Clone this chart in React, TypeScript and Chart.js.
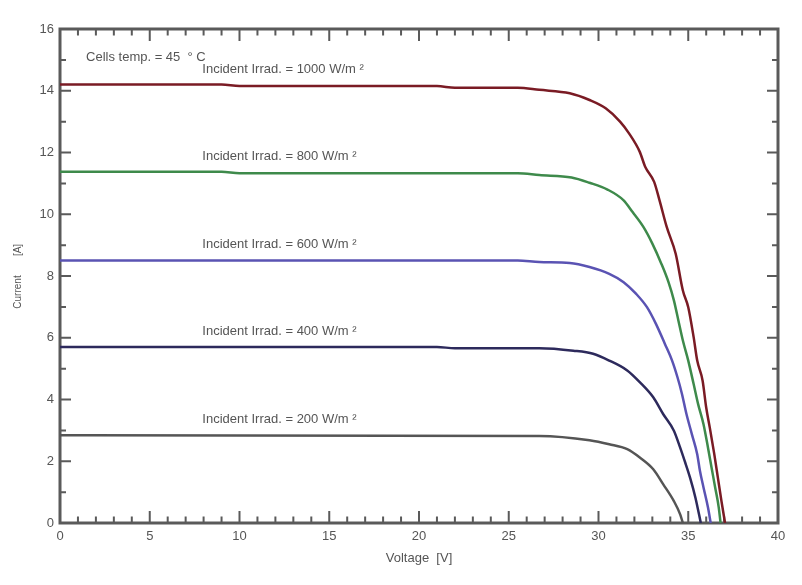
import React, { useEffect, useRef } from "react";
import { Chart, registerables } from "chart.js";

Chart.register(...registerables);

// ---- Data (Voltage [V], Current [A]) ----
const v1000 = [0, 9, 10, 21, 22, 25.5, 26.7, 28.4, 29.5, 30.4, 31.2, 31.7, 32.3, 32.6, 33.1, 33.4, 33.8, 34.3, 34.7, 35.0, 35.3, 35.5, 35.8, 36.0, 36.2, 36.45, 36.65, 36.85, 37.05];
const i1000 = [14.2, 14.2, 14.15, 14.15, 14.1, 14.1, 14.03, 13.92, 13.7, 13.43, 13.0, 12.62, 12.02, 11.54, 11.05, 10.45, 9.59, 8.72, 7.53, 6.99, 6.02, 5.26, 4.61, 3.74, 3.09, 2.23, 1.47, 0.71, 0];

const v800 = [0, 9, 10, 25.5, 26.7, 28.5, 29.5, 30.5, 31.4, 31.9, 32.5, 33.0, 33.5, 33.9, 34.2, 34.45, 34.7, 35.0, 35.3, 35.55, 35.85, 36.1, 36.3, 36.5, 36.7, 36.8];
const i800 = [11.38, 11.38, 11.33, 11.33, 11.27, 11.19, 11.02, 10.8, 10.45, 10.07, 9.59, 9.05, 8.4, 7.8, 7.21, 6.56, 5.91, 5.26, 4.5, 3.85, 3.2, 2.44, 1.79, 1.15, 0.5, 0];

const v600 = [0, 25.5, 26.7, 28.4, 29.5, 30.6, 31.4, 32.1, 32.7, 33.2, 33.7, 34.1, 34.4, 34.65, 34.9, 35.2, 35.5, 35.65, 35.85, 36.1, 36.25];
const i600 = [8.5, 8.5, 8.45, 8.42, 8.29, 8.07, 7.8, 7.42, 6.99, 6.45, 5.8, 5.26, 4.72, 4.18, 3.53, 2.88, 2.23, 1.69, 1.15, 0.5, 0];

const v400 = [0, 21, 22, 26.7, 28.6, 29.7, 30.6, 31.6, 32.3, 33.05, 33.6, 34.2, 34.55, 34.8, 35.1, 35.4, 35.7];
const i400 = [5.7, 5.7, 5.66, 5.66, 5.58, 5.48, 5.26, 4.94, 4.56, 4.07, 3.53, 2.99, 2.44, 2.01, 1.47, 0.82, 0];

const v200 = [0, 26.7, 29.5, 30.6, 31.6, 32.3, 33.05, 33.6, 34.2, 34.55, 34.7];
const i200 = [2.84, 2.82, 2.68, 2.55, 2.39, 2.12, 1.74, 1.26, 0.71, 0.28, 0];

const seriesLabels = [
  "Incident Irrad. = 1000 W/m ²",
  "Incident Irrad. = 800 W/m ²",
  "Incident Irrad. = 600 W/m ²",
  "Incident Irrad. = 400 W/m ²",
  "Incident Irrad. = 200 W/m ²",
];
const seriesColors = ["#7a1b24", "#3e8a4b", "#5a53b3", "#2d2a5c", "#555555"];
const labelV = [7.93, 7.93, 7.93, 7.93, 7.93];
const labelI = [14.7, 11.86, 9.02, 6.22, 3.35];
const noteText = "Cells temp. = 45  ° C";
const noteV = 1.45;
const noteI = 15.09;

const xTitle = "Voltage  [V]";
const yTitleA = "Current";
const yTitleB = "[A]";

const xMin = 0, xMax = 40, xStep = 5;
const yMin = 0, yMax = 16, yStep = 2;

const FONT = "'Liberation Sans', Arial, sans-serif";
const TEXT = "#555555";
const AXIS = "#5a5a5a";

const toPts = (v: number[], i: number[]) => v.map((x, k) => ({ x, y: i[k] }));

const framePlugin = {
  id: "frame",
  beforeDatasetsDraw(chart: any) {
    const { ctx, chartArea: a, scales } = chart;
    const x = scales.x, y = scales.y;
    ctx.save();
    ctx.strokeStyle = AXIS;
    ctx.lineWidth = 2;
    for (let v = xMin; v <= xMax; v += 1) {
      const px = x.getPixelForValue(v);
      const len = v % xStep === 0 ? 12 : 6.5;
      ctx.beginPath();
      ctx.moveTo(px, a.bottom);
      ctx.lineTo(px, a.bottom - len);
      ctx.moveTo(px, a.top);
      ctx.lineTo(px, a.top + len);
      ctx.stroke();
    }
    for (let v = yMin; v <= yMax; v += 1) {
      const py = y.getPixelForValue(v);
      const len = v % yStep === 0 ? 11 : 6;
      ctx.beginPath();
      ctx.moveTo(a.left, py);
      ctx.lineTo(a.left + len, py);
      ctx.moveTo(a.right, py);
      ctx.lineTo(a.right - len, py);
      ctx.stroke();
    }
    ctx.lineWidth = 3;
    ctx.strokeRect(a.left, a.top, a.right - a.left, a.bottom - a.top);
    ctx.restore();
  },
  afterDraw(chart: any) {
    const { ctx, chartArea: a, scales } = chart;
    const x = scales.x, y = scales.y;
    ctx.save();
    ctx.fillStyle = TEXT;
    ctx.textBaseline = "middle";
    ctx.textAlign = "left";
    ctx.font = `13px ${FONT}`;
    ctx.fillText(noteText, x.getPixelForValue(noteV), y.getPixelForValue(noteI));
    seriesLabels.forEach((t, k) => {
      ctx.fillText(t, x.getPixelForValue(labelV[k]), y.getPixelForValue(labelI[k]));
    });
    ctx.textAlign = "center";
    ctx.font = `13px ${FONT}`;
    ctx.fillText(xTitle, (a.left + a.right) / 2, a.bottom + 35);
    const cy = (a.top + a.bottom) / 2;
    ctx.font = `10px ${FONT}`;
    ctx.translate(18, cy);
    ctx.rotate(-Math.PI / 2);
    ctx.fillText(yTitleA, -16, 0);
    ctx.fillText(yTitleB, 26, 0);
    ctx.restore();
  },
};

export default function App() {
  const ref = useRef<HTMLCanvasElement>(null);
  useEffect(() => {
    document.body.style.margin = "0";
    const canvas = ref.current!;
    const data = [
      toPts(v1000, i1000),
      toPts(v800, i800),
      toPts(v600, i600),
      toPts(v400, i400),
      toPts(v200, i200),
    ];
    const chart = new Chart(canvas, {
      type: "line",
      data: {
        datasets: data.map((d, k) => ({
          label: seriesLabels[k],
          data: d,
          borderColor: seriesColors[k],
          backgroundColor: seriesColors[k],
          borderWidth: 2.5,
          pointRadius: 0,
          cubicInterpolationMode: "monotone" as const,
          fill: false,
        })),
      },
      options: {
        animation: false,
        responsive: false,
        layout: { padding: { top: 29, right: 24, left: 0, bottom: 0 } },
        plugins: { legend: { display: false }, tooltip: { enabled: false } },
        scales: {
          x: {
            type: "linear",
            min: xMin,
            max: xMax,
            grid: { display: false, drawTicks: false },
            border: { display: false },
            ticks: { stepSize: xStep, color: TEXT, font: { family: FONT, size: 13 }, padding: 6 },
            afterFit: (s: any) => { s.height = 62; },
          },
          y: {
            type: "linear",
            min: yMin,
            max: yMax,
            grid: { display: false, drawTicks: false },
            border: { display: false },
            ticks: { stepSize: yStep, color: TEXT, font: { family: FONT, size: 13 }, padding: 6 },
            afterFit: (s: any) => { s.width = 60; },
          },
        },
      },
      plugins: [framePlugin],
    });
    return () => chart.destroy();
  }, []);
  return (
    <div style={{ width: 802, height: 585, background: "#fff" }}>
      <canvas ref={ref} width={802} height={585} />
    </div>
  );
}
